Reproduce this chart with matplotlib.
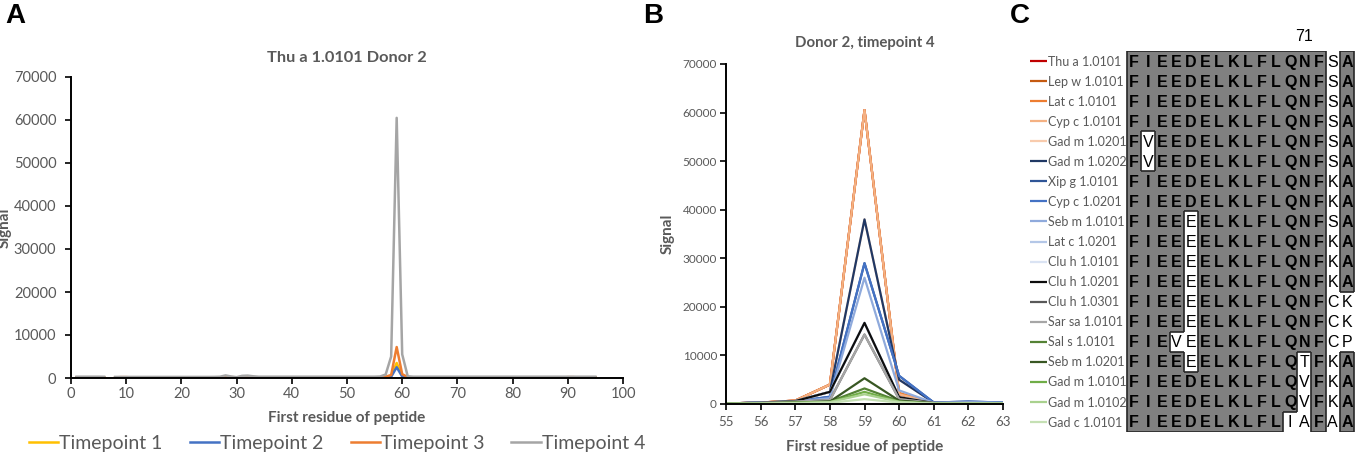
import numpy as np
import matplotlib
matplotlib.use("Agg")
import matplotlib.pyplot as plt
from matplotlib.collections import LineCollection

nan = np.nan

# ---- panel A data: Thu a 1.0101, donor 2 ----
residues_a = list(range(1, 96))
tp1 = [100, 100, 100, 100, 100, 100, nan, 120, 120, 120,
       100, 100, 100, 100, 100, 100, 100, 100, 100, 100,
       100, 100, 100, 100, 100, 100, 120, 200, 150, 100,
       150, 150, 120, 100, 100, 100, 100, 100, 100, 100,
       100, 100, 100, 100, 100, 100, 100, 100, 100, 100,
       100, 100, 100, 100, 100, 120, 200, 500, 3500, 500,
       150, 100, 100, 100, 100, 100, 100, 100, 100, 120,
       100, 100, 100, 100, 100, 100, 100, 100, 100, 100,
       100, 100, 100, 100, 100, 100, 100, 100, 100, 100,
       100, 100, 100, 100, 100]
tp2 = [80, 80, 80, 80, 80, 80, nan, 100, 100, 100,
       80, 80, 80, 80, 80, 80, 80, 80, 80, 80,
       80, 80, 80, 80, 80, 80, 100, 150, 120, 80,
       120, 120, 100, 80, 80, 80, 80, 80, 80, 80,
       80, 80, 80, 80, 80, 80, 80, 80, 80, 80,
       80, 80, 80, 80, 80, 100, 150, 300, 2500, 350,
       120, 80, 80, 80, 80, 80, 80, 80, 80, 80,
       80, 80, 100, 100, 80, 80, 80, 100, 100, 80,
       80, 80, 80, 80, 80, 80, 80, 80, 100, 100,
       100, 80, 80, 80, 80]
tp3 = [120, 120, 120, 120, 120, 120, nan, 150, 200, 200,
       150, 120, 120, 120, 120, 120, 120, 120, 120, 120,
       120, 120, 120, 120, 120, 120, 150, 250, 200, 150,
       250, 250, 150, 120, 120, 120, 150, 120, 120, 120,
       120, 120, 120, 150, 120, 120, 120, 120, 120, 120,
       120, 120, 120, 120, 120, 150, 300, 700, 7200, 900,
       200, 120, 120, 120, 120, 120, 150, 120, 120, 120,
       120, 120, 120, 150, 120, 120, 120, 120, 120, 120,
       120, 120, 120, 120, 150, 120, 120, 120, 120, 200,
       200, 120, 120, 120, 120]
tp4 = [300, 300, 300, 300, 300, 280, nan, 250, 250, 250,
       250, 250, 250, 250, 250, 250, 250, 250, 250, 250,
       250, 250, 250, 250, 250, 260, 300, 600, 350, 200,
       500, 550, 400, 300, 300, 300, 300, 300, 300, 300,
       300, 300, 300, 300, 300, 300, 300, 300, 300, 300,
       300, 300, 300, 300, 300, 350, 800, 5000, 60500, 5500,
       400, 300, 300, 300, 300, 300, 300, 300, 300, 300,
       300, 300, 300, 300, 300, 300, 300, 300, 300, 300,
       300, 300, 300, 300, 300, 300, 300, 300, 300, 300,
       300, 300, 300, 300, 300]
timepoint_labels = ["Timepoint 1", "Timepoint 2", "Timepoint 3", "Timepoint 4"]
timepoint_colors = ["#FFC000", "#4472C4", "#ED7D31", "#A5A5A5"]

# ---- panel B data: donor 2, timepoint 4 ----
residues_b = [55, 56, 57, 58, 59, 60, 61, 62, 63]
allergens = ["Thu a 1.0101", "Lep w 1.0101", "Lat c 1.0101", "Cyp c 1.0101",
             "Gad m 1.0201", "Gad m 1.0202", "Xip g 1.0101", "Cyp c 1.0201",
             "Seb m 1.0101", "Lat c 1.0201", "Clu h 1.0101", "Clu h 1.0201",
             "Clu h 1.0301", "Sar sa 1.0101", "Sal s 1.0101", "Seb m 1.0201",
             "Gad m 1.0101", "Gad m 1.0102", "Gad c 1.0101"]
allergen_colors = ["#C00000", "#C55A11", "#ED7D31", "#F4B183", "#F8CBAD",
                   "#203864", "#2F5597", "#4472C4", "#8FAADC", "#B4C7E7",
                   "#DAE3F3", "#0D0D0D", "#595959", "#A6A6A6", "#548235",
                   "#385723", "#70AD47", "#A9D18E", "#C5E0B4"]
signal_b = [
    [100, 300, 700, 4000, 60500, 2000, 200, 200, 150],
    [100, 300, 700, 4000, 60500, 2100, 200, 200, 150],
    [100, 300, 700, 4000, 60500, 2300, 200, 200, 150],
    [100, 300, 700, 4000, 60500, 2000, 200, 200, 150],
    [100, 300, 600, 2500, 38000, 5000, 300, 300, 200],
    [100, 300, 600, 2500, 38000, 5000, 300, 300, 200],
    [100, 300, 500, 1500, 29000, 5800, 300, 500, 300],
    [100, 300, 500, 1500, 29000, 5800, 300, 500, 300],
    [100, 250, 500, 1200, 26000, 2800, 250, 400, 250],
    [100, 250, 600, 2500, 16700, 1400, 200, 200, 150],
    [100, 250, 600, 2500, 16700, 1400, 200, 200, 150],
    [100, 250, 600, 2500, 16700, 1400, 200, 200, 150],
    [100, 200, 500, 800, 14300, 1000, 200, 150, 100],
    [100, 200, 500, 800, 14300, 1000, 200, 150, 100],
    [50, 150, 300, 500, 3200, 600, 150, 100, 100],
    [50, 150, 300, 500, 5300, 700, 150, 100, 100],
    [50, 100, 250, 400, 2500, 500, 100, 100, 100],
    [50, 100, 250, 400, 2000, 450, 100, 100, 100],
    [30, 80, 150, 250, 1000, 300, 80, 80, 80],
]

# ---- panel C data: alignment residues 59-74 ----
sequences = ["FIEEDELKLFLQNFSA", "FIEEDELKLFLQNFSA", "FIEEDELKLFLQNFSA",
             "FIEEDELKLFLQNFSA", "FVEEDELKLFLQNFSA", "FVEEDELKLFLQNFSA",
             "FIEEDELKLFLQNFKA", "FIEEDELKLFLQNFKA", "FIEEEELKLFLQNFSA",
             "FIEEEELKLFLQNFKA", "FIEEEELKLFLQNFKA", "FIEEEELKLFLQNFKA",
             "FIEEEELKLFLQNFCK", "FIEEEELKLFLQNFCK", "FIEVEELKLFLQNFCP",
             "FIEEEELKLFLQTFKA", "FIEEDELKLFLQVFKA", "FIEEDELKLFLQVFKA",
             "FIEEDELKLFLIAFAA"]
# '#' = conserved (grey), '.' = variant (white)
shading = ["##############.#", "##############.#", "##############.#",
           "##############.#", "#.############.#", "#.############.#",
           "##############.#", "##############.#", "####.#########.#",
           "####.#########.#", "####.#########.#", "####.#########.#",
           "####.#########..", "####.#########..", "###..#########..",
           "####.#######.#.#", "############.#.#", "############.#.#",
           "###########..#.#"]
first_residue = 59
marked_residue = 71

grey_txt = "#595959"
plt.rcParams["font.family"] = ["Lato", "DejaVu Sans"]

W, H = 1358, 457
fig = plt.figure(figsize=(W / 100, H / 100), dpi=100)


def style_axes(ax, tick_size):
    for s in ["top", "right"]:
        ax.spines[s].set_visible(False)
    for s in ["left", "bottom"]:
        ax.spines[s].set_linewidth(1.4)
        ax.spines[s].set_color("black")
    ax.tick_params(direction="out", length=4.5, width=1.2, colors="black",
                   labelcolor=grey_txt, labelsize=tick_size, pad=2)


# ---- A ----
axA = fig.add_axes([71 / W, 79 / H, 552 / W, 301 / H])
for vals, lab, col in zip([tp1, tp2, tp3, tp4], timepoint_labels, timepoint_colors):
    axA.plot(residues_a, vals, color=col, lw=1.8, label=lab)
axA.set_xlim(0, 100)
axA.set_ylim(0, 70000)
axA.set_xticks(range(0, 101, 10))
axA.set_yticks(range(0, 70001, 10000))
style_axes(axA, 10.5)
axA.tick_params(axis="y", pad=6)
axA.set_title("Thu a 1.0101 Donor 2", fontsize=11.8, weight="bold", color=grey_txt, pad=11)
axA.set_xlabel("First residue of peptide", fontsize=11, weight="bold", color=grey_txt, labelpad=7)
axA.set_ylabel("Signal", fontsize=11, weight="bold", color=grey_txt)
axA.yaxis.set_label_coords(-0.108, 0.5)
fig.legend(*axA.get_legend_handles_labels(), loc="center",
           bbox_to_anchor=(337 / W, 1 - 443 / H), ncol=4, frameon=False,
           fontsize=14, handlelength=1.5, handletextpad=0.05, columnspacing=1.4,
           labelcolor=grey_txt, borderaxespad=0, borderpad=0)

# ---- B ----
axB = fig.add_axes([726 / W, 53 / H, 277 / W, 340 / H])
for vals, lab, col in zip(signal_b, allergens, allergen_colors):
    axB.plot(residues_b, vals, color=col, lw=1.6)
axB.set_xlim(55, 63)
axB.set_ylim(0, 70000)
axB.set_xticks(residues_b)
axB.set_yticks(range(0, 70001, 10000))
style_axes(axB, 8.5)
axB.tick_params(axis="x", labelsize=9.5, pad=4)
axB.set_title("Donor 2, timepoint 4", fontsize=10.8, weight="bold", color=grey_txt, pad=12)
axB.set_xlabel("First residue of peptide", fontsize=11, weight="bold", color=grey_txt, labelpad=9)
axB.set_ylabel("Signal", fontsize=11, weight="bold", color=grey_txt, labelpad=6)

# ---- C ----
col_w = 227 / 16
x_left = (1020 - 1127) / col_w - 0.5
x_right = (1358 - 1127) / col_w - 0.5
axC = fig.add_axes([1020 / W, 25 / H, 338 / W, 381 / H])
axC.set_xlim(x_left, x_right)
axC.set_ylim(len(sequences) - 0.5, -0.5)
axC.axis("off")

n_rows, n_cols = len(sequences), len(sequences[0])
segs = []
for r in range(n_rows):
    for c in range(n_cols):
        on = shading[r][c] == "#"
        if on:
            axC.add_patch(plt.Rectangle((c - 0.5, r - 0.5), 1, 1, facecolor="#808080",
                                        edgecolor="none"))
            if r == 0 or shading[r - 1][c] != "#":
                segs.append([(c - 0.5, r - 0.5), (c + 0.5, r - 0.5)])
            if r == n_rows - 1 or shading[r + 1][c] != "#":
                segs.append([(c - 0.5, r + 0.5), (c + 0.5, r + 0.5)])
            if c == 0 or shading[r][c - 1] != "#":
                segs.append([(c - 0.5, r - 0.5), (c - 0.5, r + 0.5)])
            if c == n_cols - 1 or shading[r][c + 1] != "#":
                segs.append([(c + 0.5, r - 0.5), (c + 0.5, r + 0.5)])
        axC.text(c, r + 0.05, sequences[r][c], ha="center", va="center",
                 fontsize=11.5, family="Liberation Sans",
                 weight="bold" if on else "normal", color="black")
axC.add_collection(LineCollection(segs, colors="#262626", linewidths=1.2))
axC.text(marked_residue - first_residue, -1.2, str(marked_residue), ha="center",
         va="center", fontsize=11.5, family="Liberation Sans", color="black")

leg_x0 = (1030 - 1127) / col_w - 0.5
leg_x1 = (1047 - 1127) / col_w - 0.5
for r, (lab, col) in enumerate(zip(allergens, allergen_colors)):
    axC.plot([leg_x0, leg_x1], [r, r], color=col, lw=1.6, solid_capstyle="butt")
    axC.text(leg_x1 + 0.1, r + 0.03, lab, ha="left", va="center", fontsize=9,
             color=grey_txt)

# panel letters
for lab, xp in [("A", 5), ("B", 643), ("C", 1010)]:
    fig.text(xp / W, 1 - 3 / H, lab, ha="left", va="top", fontsize=20,
             weight="bold", family="Liberation Sans")

fig.savefig("out.png", dpi=100)
